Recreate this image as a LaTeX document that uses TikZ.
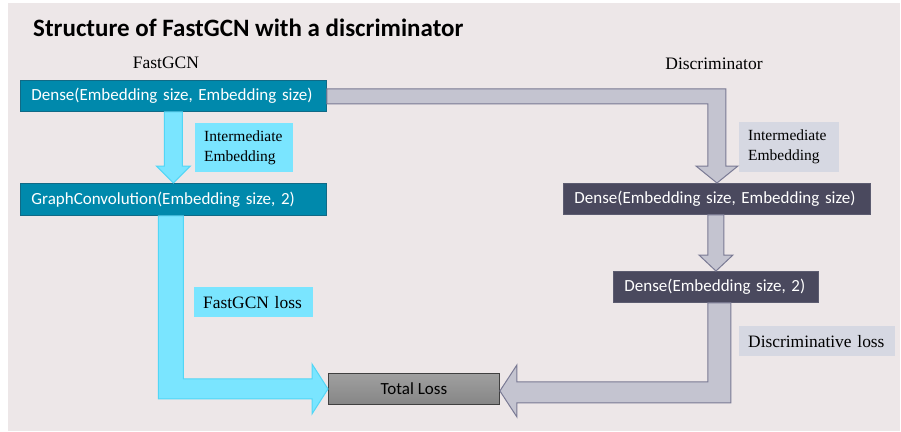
\documentclass[tikz,border=0pt]{standalone}
\usepackage{fontspec}
\setmainfont{Liberation Serif}
\newfontfamily\calibri{Carlito}
\usetikzlibrary{calc}

\definecolor{panelbg}{RGB}{237,231,232}
\definecolor{tealfill}{RGB}{0,137,172}
\definecolor{tealline}{RGB}{16,106,134}
\definecolor{darkfill}{RGB}{74,73,94}
\definecolor{darkline}{RGB}{92,92,112}
\definecolor{cyanfill}{RGB}{122,229,255}
\definecolor{cyanline}{RGB}{82,214,246}
\definecolor{greyfill}{RGB}{196,196,208}
\definecolor{greyline}{RGB}{122,122,148}
\definecolor{greylabel}{RGB}{214,216,226}

\tikzset{
  layerbox/.style={anchor=north west, inner xsep=11pt, inner ysep=0pt,
    align=left, text=white, font=\calibri\fontsize{17}{20}\selectfont, line width=0.9pt},
  tealbox/.style={layerbox, fill=tealfill, draw=tealline},
  darkbox/.style={layerbox, fill=darkfill, draw=darkline},
  notebox/.style={anchor=north west, inner xsep=9pt, inner ysep=0pt, align=left,
    text=black},
  smallnote/.style={notebox, font=\fontsize{15.5}{20}\selectfont},
  bignote/.style={notebox, font=\fontsize{17.4}{20}\selectfont},
  cyanarrow/.style={fill=cyanfill, draw=cyanline, line width=1pt, line join=miter},
  greyarrow/.style={fill=greyfill, draw=greyline, line width=1pt, line join=miter},
  heading/.style={inner sep=0pt, anchor=base, font=\fontsize{17.5}{20}\selectfont},
}

\begin{document}
\begin{tikzpicture}[x=1pt, y=-1pt]
  \useasboundingbox (0,0) rectangle (901,431);
  \fill[panelbg] (8,3) rectangle (900,431);

  % title and column headings
  \node[anchor=base west, inner sep=0pt, font=\calibri\bfseries\fontsize{25}{30}\selectfont]
    (title) at (33,36) {Structure of FastGCN with a discriminator};
  \node[heading] (hgcn) at (166,68) {FastGCN};
  \node[heading] (hdisc) at (714,69) {Discriminator};

  % FastGCN layers
  \node[tealbox, minimum height=31pt, text width=284pt] (d1) at (20,80)
    {Dense(Embedding size, Embedding size)};
  \node[tealbox, minimum height=32pt, text width=284pt] (g1) at (20,183)
    {GraphConvolution(Embedding size, 2)};

  % discriminator layers
  \node[darkbox, minimum height=31pt, text width=285pt] (d2) at (563,183)
    {Dense(Embedding size, Embedding size)};
  \node[darkbox, minimum height=31pt, text width=183pt] (d3) at (613,271)
    {Dense(Embedding size, 2)};

  % combined loss
  \node[anchor=north west, minimum width=171pt, minimum height=31pt, inner sep=0pt,
    top color=gray!75, bottom color=gray!100!black!95, draw=black!75, line width=0.9pt,
    font=\calibri\fontsize{17}{20}\selectfont] (tl) at (328,373) {Total Loss};

  % annotations
  \node[smallnote, fill=cyanfill, minimum height=49pt, text width=80pt] (n1) at (195,123)
    {Intermediate\\Embedding};
  \node[smallnote, fill=greylabel, minimum height=50pt, text width=82pt] (n2) at (739,122)
    {Intermediate\\Embedding};
  \node[bignote, fill=cyanfill, minimum height=30pt, text width=101pt] (n3) at (194,287)
    {FastGCN loss};
  \node[bignote, fill=greylabel, minimum height=30pt, text width=138pt] (n4) at (739,326)
    {Discriminative loss};

  % block arrows
  \coordinate (a2c) at (d2.north |- d1.east);
  \coordinate (a3b) at (d3.north |- d2.south);
  \coordinate (a4c) at (g1.south |- tl.west);
  \coordinate (a5t) at ($(tl.east)+(0,2)$);
  \coordinate (a5c) at (d3.south |- a5t);

  % Dense -> GraphConvolution
  \draw[cyanarrow] ($(d1.south)+(-9,0)$) -- ($(d1.south)+(9,0)$) -- ($(g1.north)+(9,-17)$)
    -- ($(g1.north)+(17,-17)$) -- (g1.north) -- ($(g1.north)+(-17,-17)$)
    -- ($(g1.north)+(-9,-17)$) -- cycle;

  % Dense -> discriminator Dense
  \draw[greyarrow] ($(d1.east)+(0,-7)$) -- ($(a2c)+(9,-7)$) -- ($(d2.north)+(9,-17)$)
    -- ($(d2.north)+(21,-17)$) -- (d2.north) -- ($(d2.north)+(-21,-17)$)
    -- ($(d2.north)+(-9,-17)$) -- ($(a2c)+(-9,8)$) -- ($(d1.east)+(0,8)$) -- cycle;

  % discriminator Dense -> Dense(Embedding size, 2)
  \draw[greyarrow] ($(a3b)+(-8,0)$) -- ($(a3b)+(8,0)$) -- ($(d3.north)+(8,-16)$)
    -- ($(d3.north)+(17,-16)$) -- (d3.north) -- ($(d3.north)+(-17,-16)$)
    -- ($(d3.north)+(-8,-16)$) -- cycle;

  % GraphConvolution -> Total Loss
  \draw[cyanarrow] ($(g1.south)+(-15,0)$) -- ($(g1.south)+(10,0)$) -- ($(a4c)+(10,-10)$)
    -- ($(tl.west)+(-16,-10)$) -- ($(tl.west)+(-16,-25)$) -- (tl.west)
    -- ($(tl.west)+(-16,25)$) -- ($(tl.west)+(-16,10)$) -- ($(a4c)+(-15,10)$) -- cycle;

  % Dense(Embedding size, 2) -> Total Loss
  \draw[greyarrow] ($(d3.south)+(-8,0)$) -- ($(d3.south)+(15,0)$) -- ($(a5c)+(15,12)$)
    -- ($(a5t)+(17,12)$) -- ($(a5t)+(17,26)$) -- (a5t) -- ($(a5t)+(17,-26)$)
    -- ($(a5t)+(17,-9)$) -- ($(a5c)+(-8,-9)$) -- cycle;
\end{tikzpicture}
\end{document}
